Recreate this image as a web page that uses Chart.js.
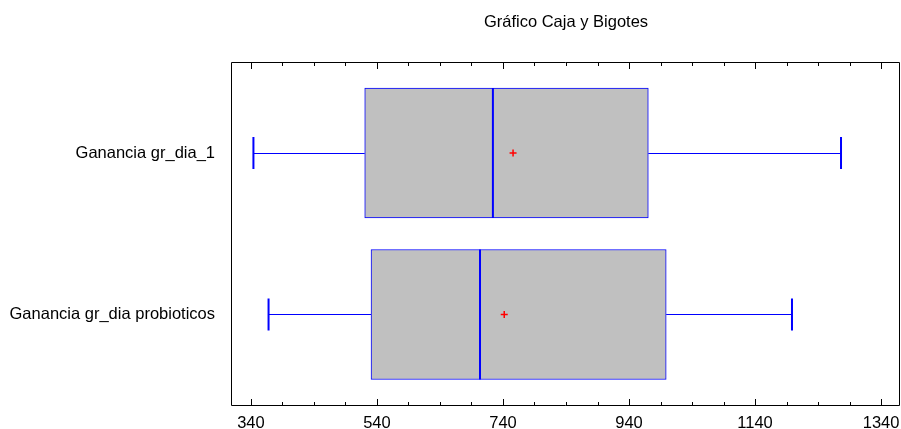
<!DOCTYPE html>
<html>
<head>
<meta charset="utf-8">
<script src="https://cdn.jsdelivr.net/npm/chart.js@4/dist/chart.umd.min.js"></script>
<style>
  html, body { margin: 0; padding: 0; background: #fff; }
  #wrap { width: 901px; height: 429px; position: relative; }
</style>
</head>
<body>
<div id="wrap"><canvas id="c" width="901" height="429"></canvas></div>
<script>
const chartTitle = 'Gráfico Caja y Bigotes';
const categories = ['Ganancia gr_dia_1', 'Ganancia gr_dia probioticos'];
const minVals = [344, 368];
const q1Vals = [520.6, 530.6];
const medianVals = [724, 703.5];
const meanVals = [756, 742];
const q3Vals = [970.6, 999];
const maxVals = [1276.4, 1198.6];
const majorTicks = [340, 540, 740, 940, 1140, 1340];
const minorStep = 50;

const FONT = { family: "'Liberation Sans', Arial, sans-serif", size: 16.5 };

const boxData = categories.map((c, i) => ({ x: [q1Vals[i], q3Vals[i]], y: i + 1 }));
const meanData = categories.map((c, i) => ({ x: meanVals[i], y: i + 1 }));

const allTickValues = [];
for (let v = majorTicks[0]; v <= majorTicks[majorTicks.length - 1]; v += minorStep) allTickValues.push(v);

const boxPlugin = {
  id: 'boxExtras',
  afterDatasetsDraw(chart) {
    const ctx = chart.ctx;
    const xs = chart.scales.x, ys = chart.scales.y;
    ctx.save();
    ctx.strokeStyle = '#0000ff';
    categories.forEach((c, i) => {
      const y = ys.getPixelForValue(i + 1);
      const yc = Math.round(y) + 0.5;
      const pMin = xs.getPixelForValue(minVals[i]);
      const pQ1 = xs.getPixelForValue(q1Vals[i]);
      const pQ3 = xs.getPixelForValue(q3Vals[i]);
      const pMax = xs.getPixelForValue(maxVals[i]);
      const pMed = xs.getPixelForValue(medianVals[i]);
      ctx.lineWidth = 1;
      ctx.beginPath();
      ctx.moveTo(pMin, yc); ctx.lineTo(pQ1, yc);
      ctx.moveTo(pQ3, yc); ctx.lineTo(pMax, yc);
      ctx.stroke();
      ctx.lineWidth = 2;
      ctx.beginPath();
      ctx.moveTo(pMin, y - 16); ctx.lineTo(pMin, y + 16);
      ctx.moveTo(pMax, y - 16); ctx.lineTo(pMax, y + 16);
      ctx.stroke();
      ctx.beginPath();
      ctx.moveTo(pMed, y - 65); ctx.lineTo(pMed, y + 65);
      ctx.stroke();
    });
    ctx.restore();
  },
  afterDraw(chart) {
    const ctx = chart.ctx;
    const a = chart.chartArea;
    const xs = chart.scales.x;
    ctx.save();
    ctx.strokeStyle = '#000';
    ctx.lineWidth = 1;
    ctx.beginPath();
    ctx.moveTo(a.left - 0.5, a.top + 0.5);
    ctx.lineTo(a.right - 0.5, a.top + 0.5);
    ctx.lineTo(a.right - 0.5, a.bottom - 0.5);
    ctx.lineTo(a.left - 0.5, a.bottom - 0.5);
    ctx.closePath();
    ctx.stroke();
    ctx.beginPath();
    xs.ticks.forEach(t => {
      const px = Math.round(xs.getPixelForValue(t.value)) + 0.5;
      const len = majorTicks.includes(t.value) ? 7 : 4;
      ctx.moveTo(px, a.bottom); ctx.lineTo(px, a.bottom - len);
      ctx.moveTo(px, a.top); ctx.lineTo(px, a.top + len);
    });
    ctx.stroke();
    ctx.restore();
  }
};

new Chart(document.getElementById('c'), {
  type: 'bar',
  data: {
    datasets: [
      {
        type: 'scatter',
        data: meanData,
        pointStyle: 'cross',
        radius: 3.5,
        borderColor: '#ff0000',
        borderWidth: 1.5,
        order: 0
      },
      {
        type: 'bar',
        data: boxData,
        backgroundColor: '#c0c0c0',
        borderColor: '#0000ff',
        borderWidth: 1,
        borderSkipped: false,
        barThickness: 130,
        order: 1
      }
    ]
  },
  options: {
    indexAxis: 'y',
    responsive: false,
    animation: false,
    layout: { autoPadding: false, padding: { left: 0, right: 1, top: 0, bottom: 0 } },
    plugins: {
      legend: { display: false },
      tooltip: { enabled: false },
      title: {
        display: true,
        text: chartTitle,
        fullSize: false,
        color: '#000',
        font: { family: FONT.family, size: FONT.size, weight: 'normal' },
        padding: { top: 13, bottom: 29.2 }
      }
    },
    scales: {
      x: {
        type: 'linear',
        min: 310,
        max: 1370,
        offset: false,
        afterBuildTicks: s => { s.ticks = allTickValues.map(v => ({ value: v })); },
        afterFit: s => { s.height = 23; s.paddingLeft = 0; s.paddingRight = 0; },
        grid: { display: false, drawTicks: true, tickLength: 8 },
        border: { display: false },
        ticks: {
          autoSkip: false,
          maxRotation: 0,
          padding: 0,
          color: '#000',
          font: FONT,
          callback: v => majorTicks.includes(v) ? String(v) : ''
        }
      },
      y: {
        type: 'linear',
        reverse: true,
        offset: false,
        min: 0.4365,
        max: 2.5666,
        afterBuildTicks: s => { s.ticks = categories.map((c, i) => ({ value: i + 1 })); },
        afterFit: s => { s.width = 232; s.paddingTop = 0; s.paddingBottom = 0; },
        grid: { display: false, drawTicks: false },
        border: { display: false },
        ticks: {
          padding: 17,
          color: '#000',
          font: FONT,
          callback: v => categories[v - 1] || ''
        }
      }
    }
  },
  plugins: [boxPlugin]
});
</script>
</body>
</html>
